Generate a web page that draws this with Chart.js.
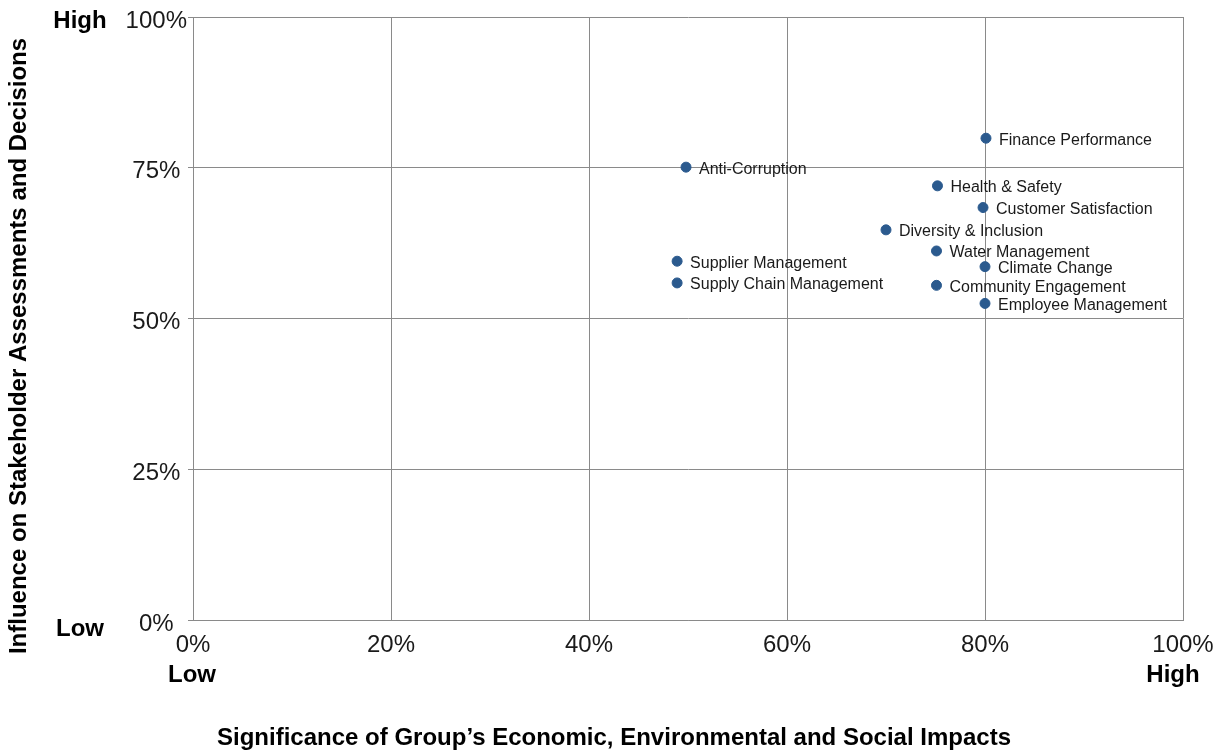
<!DOCTYPE html>
<html>
<head>
<meta charset="utf-8">
<script src="https://cdn.jsdelivr.net/npm/chart.js@4.4.0/dist/chart.umd.min.js"></script>
<style>
  html, body { margin: 0; padding: 0; background: #ffffff; }
  #wrap { width: 1225px; height: 751px; position: relative; }
</style>
</head>
<body>
<div id="wrap"><canvas id="c" width="1225" height="751"></canvas></div>
<script>
const categories = [
  "Finance Performance", "Anti-Corruption", "Health & Safety", "Customer Satisfaction",
  "Diversity & Inclusion", "Water Management", "Supplier Management", "Climate Change",
  "Supply Chain Management", "Community Engagement", "Employee Management"
];
const significance = [80.1, 49.8, 75.2, 79.8, 70.0, 75.1, 48.9, 80.0, 48.9, 75.1, 80.0];
const influence    = [79.9, 75.1, 72.0, 68.4, 64.7, 61.2, 59.5, 58.6, 55.9, 55.5, 52.5];
const xTickStep = 20;
const yTickStep = 25;
const xTitle = "Significance of Group\u2019s Economic, Environmental and Social Impacts";
const yTitle = "Influence on Stakeholder Assessments and Decisions";
const lowLabel = "Low";
const highLabel = "High";

const FONT = "'Liberation Sans', Arial, Helvetica, sans-serif";
const points = categories.map((c, i) => ({ x: significance[i], y: influence[i], label: c }));

const labelPlugin = {
  id: 'pointLabels',
  afterDatasetsDraw(chart) {
    const ctx = chart.ctx;
    const meta = chart.getDatasetMeta(0);
    ctx.save();
    ctx.font = "16px " + FONT;
    ctx.fillStyle = "#1a1a1a";
    ctx.textAlign = "left";
    ctx.textBaseline = "middle";
    meta.data.forEach((el, i) => {
      ctx.fillText(categories[i], el.x + 13, el.y + 2);
    });
    ctx.restore();
  }
};

const extraText = {
  id: 'extraText',
  afterDraw(chart) {
    const ctx = chart.ctx;
    const area = chart.chartArea;
    ctx.save();
    ctx.fillStyle = "#000000";
    ctx.font = "bold 24px " + FONT;
    ctx.textBaseline = "middle";
    ctx.textAlign = "center";
    // y axis High / Low
    ctx.fillText(highLabel, 80, area.top + 4);
    ctx.fillText(lowLabel, 80, area.bottom + 9);
    // x axis Low / High
    ctx.fillText(lowLabel, area.left - 1, 675);
    ctx.fillText(highLabel, area.right - 10, 675);
    // x title
    ctx.fillText(xTitle, 614, 738);
    // y title
    ctx.translate(19, 346);
    ctx.rotate(-Math.PI / 2);
    ctx.fillText(yTitle, 0, 0);
    ctx.restore();
  }
};

new Chart(document.getElementById('c'), {
  type: 'scatter',
  data: {
    datasets: [{
      data: points,
      backgroundColor: '#2b5a8e',
      borderColor: '#2b5a8e',
      pointRadius: 5,
      pointHoverRadius: 5
    }]
  },
  options: {
    responsive: false,
    animation: false,
    devicePixelRatio: 1,
    layout: { padding: { top: 17, right: 42, left: 0, bottom: 0 } },
    plugins: {
      legend: { display: false },
      tooltip: { enabled: false },
      title: { display: false }
    },
    scales: {
      x: {
        type: 'linear',
        min: 0, max: 100,
        afterFit(scale) { scale.height = 131; },
        ticks: {
          stepSize: xTickStep,
          padding: 11,
          color: '#1a1a1a',
          font: { family: FONT, size: 24 },
          maxRotation: 0,
          callback: v => v + '%'
        },
        grid: { color: '#8a8a8a', lineWidth: 1, drawTicks: false },
        border: { color: '#8a8a8a' }
      },
      y: {
        type: 'linear',
        min: 0, max: 100,
        afterFit(scale) { scale.width = 193; },
        ticks: {
          stepSize: yTickStep,
          padding: 1,
          labelOffset: 4,
          crossAlign: 'center',
          color: '#1a1a1a',
          font: { family: FONT, size: 24 },
          callback: v => v + '%'
        },
        grid: { color: '#8a8a8a', lineWidth: 1, drawTicks: true, tickLength: 5 },
        border: { color: '#8a8a8a' }
      }
    }
  },
  plugins: [labelPlugin, extraText]
});
</script>
</body>
</html>
